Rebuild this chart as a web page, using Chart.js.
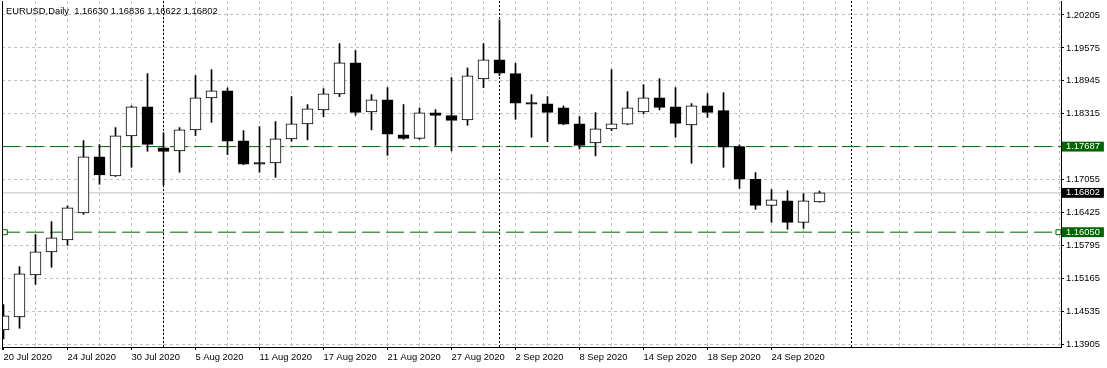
<!DOCTYPE html>
<html>
<head>
<meta charset="utf-8">
<script src="https://cdn.jsdelivr.net/npm/chart.js@4.4.0/dist/chart.umd.min.js"></script>
<style>
  html, body { margin: 0; padding: 0; background: #fff; }
  #wrap { width: 1107px; height: 368px; }
</style>
</head>
<body>
<div id="wrap"><canvas id="chart" width="1107" height="368"></canvas></div>
<script>
// EURUSD daily bars, 20 Jul - 29 Sep 2020
let dates = [
    "20 Jul 2020", "21 Jul 2020", "22 Jul 2020", "23 Jul 2020", "24 Jul 2020",
    "27 Jul 2020", "28 Jul 2020", "29 Jul 2020", "30 Jul 2020", "31 Jul 2020",
    "3 Aug 2020", "4 Aug 2020", "5 Aug 2020", "6 Aug 2020", "7 Aug 2020",
    "10 Aug 2020", "11 Aug 2020", "12 Aug 2020", "13 Aug 2020", "14 Aug 2020",
    "17 Aug 2020", "18 Aug 2020", "19 Aug 2020", "20 Aug 2020", "21 Aug 2020",
    "24 Aug 2020", "25 Aug 2020", "26 Aug 2020", "27 Aug 2020", "28 Aug 2020",
    "31 Aug 2020", "1 Sep 2020", "2 Sep 2020", "3 Sep 2020", "4 Sep 2020",
    "7 Sep 2020", "8 Sep 2020", "9 Sep 2020", "10 Sep 2020", "11 Sep 2020",
    "14 Sep 2020", "15 Sep 2020", "16 Sep 2020", "17 Sep 2020", "18 Sep 2020",
    "21 Sep 2020", "22 Sep 2020", "23 Sep 2020", "24 Sep 2020", "25 Sep 2020",
    "28 Sep 2020", "29 Sep 2020",
];
let opens = [
    1.14180, 1.14429, 1.15233, 1.15673, 1.15902, 1.16419, 1.17490, 1.17127, 1.17892, 1.18447,
    1.17662, 1.17605, 1.18007, 1.18619, 1.18753, 1.17796, 1.17381, 1.17375, 1.17835, 1.18122,
    1.18389, 1.18696, 1.19289, 1.18351, 1.18581, 1.17911, 1.17846, 1.18332, 1.18280, 1.18198,
    1.18982, 1.19346, 1.19084, 1.18529, 1.18504, 1.18428, 1.18122, 1.17758, 1.18026, 1.18115,
    1.18351, 1.18619, 1.18447, 1.18102, 1.18466, 1.18376, 1.17687, 1.17062, 1.16564, 1.16648,
    1.16239, 1.16630,
];
let highs = [
    1.14664, 1.15391, 1.16004, 1.16252, 1.16553, 1.17802, 1.17726, 1.18051, 1.18466, 1.19084,
    1.17955, 1.18051, 1.19046, 1.19160, 1.18810, 1.17993, 1.18070, 1.18166, 1.18644, 1.18491,
    1.18797, 1.19658, 1.19524, 1.18682, 1.18816, 1.18491, 1.18428, 1.18395, 1.19007, 1.19193,
    1.19658, 1.20111, 1.19281, 1.18682, 1.18644, 1.18466, 1.18261, 1.18338, 1.19160, 1.18740,
    1.18873, 1.18988, 1.18816, 1.18510, 1.18701, 1.18720, 1.17720, 1.17190, 1.16865, 1.16845,
    1.16788, 1.16836,
];
let lows = [
    1.14008, 1.14211, 1.15053, 1.15378, 1.15799, 1.16392, 1.16966, 1.17115, 1.17291, 1.17597,
    1.16947, 1.17196, 1.17898, 1.18152, 1.17534, 1.17340, 1.17196, 1.17100, 1.17789, 1.17815,
    1.18261, 1.18644, 1.18286, 1.18007, 1.17521, 1.17827, 1.17827, 1.17712, 1.17605, 1.18095,
    1.18816, 1.19046, 1.18210, 1.17865, 1.17783, 1.18105, 1.17643, 1.17509, 1.17993, 1.18105,
    1.18313, 1.18389, 1.17865, 1.17368, 1.18248, 1.17291, 1.16889, 1.16488, 1.16239, 1.16105,
    1.16124, 1.16622,
];
let closes = [
    1.14448, 1.15252, 1.15673, 1.15940, 1.16514, 1.17490, 1.17146, 1.17892, 1.18447, 1.17731,
    1.17597, 1.18007, 1.18619, 1.18753, 1.17789, 1.17349, 1.17349, 1.17835, 1.18122, 1.18409,
    1.18696, 1.19289, 1.18343, 1.18581, 1.17923, 1.17846, 1.18332, 1.18286, 1.18190, 1.19040,
    1.19346, 1.19090, 1.18516, 1.18497, 1.18343, 1.18114, 1.17712, 1.18026, 1.18122, 1.18428,
    1.18619, 1.18439, 1.18133, 1.18466, 1.18343, 1.17674, 1.17062, 1.16564, 1.16668, 1.16239,
    1.16648, 1.16802,
];

// price scale labels
let priceTicks = [1.20205, 1.19575, 1.18945, 1.18315, 1.17685, 1.17055, 1.16425, 1.15795, 1.15165, 1.14535, 1.13905];
// horizontal lines drawn on the chart
let levels = [1.17687, 1.16050];
// first bar of each month (1 Oct is still ahead)
let monthStarts = [10, 31, 53];

// visible window, in bars and in price
const xMin = -0.09375, xMax = 66.09375;
const yMin = 1.138533, yMax = 1.204728;

const FONT = '"Liberation Sans", Arial, sans-serif';
const NONE = 'rgba(0,0,0,0)';
const GRID = '#c0c0c0';
const GREEN = '#006400';
const last = closes.length - 1;
const bid = closes[last];

function levelKind(v) {
    if (Math.abs(v - bid) < 1e-7) return 'bid';
    for (const l of levels) if (Math.abs(v - l) < 1e-7) return 'level';
    return null;
}
function hiddenTick(v) {
    if (levelKind(v)) return false;
    return levels.concat([bid]).some(l => Math.abs(l - v) < 0.001);
}

const datasets = [
    {
        type: 'bar',
        data: dates.map((d, i) => ({x: i, y: [opens[i], closes[i]]})),
        backgroundColor: dates.map((d, i) => closes[i] >= opens[i] ? '#ffffff' : '#000000'),
        borderColor: '#000000',
        borderWidth: 1,
        borderSkipped: false,
        barThickness: 11,
        grouped: false,
    },
    {
        type: 'bar',
        data: dates.map((d, i) => ({x: i, y: [lows[i], highs[i]]})),
        backgroundColor: '#000000',
        borderWidth: 0,
        barThickness: 1,
        grouped: false,
    },
    {
        type: 'line',
        data: [{x: xMin, y: bid}, {x: xMax, y: bid}],
        borderColor: GRID,
        borderWidth: 1,
        pointRadius: 0,
    },
];
levels.forEach((l, k) => {
    datasets.push({
        type: 'line',
        data: [{x: xMin, y: l}, {x: xMin + 0.18, y: l}, {x: xMax - 0.16, y: l}, {x: xMax, y: l}],
        borderColor: GREEN,
        borderWidth: 1,
        borderDash: [18, 6],
        pointStyle: 'rect',
        pointRadius: (ctx) => (k === 1 && (ctx.dataIndex === 1 || ctx.dataIndex === 2)) ? 3.5 : 0,
        pointBackgroundColor: '#ffffff',
        pointBorderColor: GREEN,
        pointBorderWidth: 1,
    });
});
monthStarts.forEach(m => {
    datasets.push({
        type: 'line',
        data: [{x: m, y: yMin}, {x: m, y: yMax}],
        borderColor: '#000000',
        borderWidth: 1,
        borderDash: [2, 2],
        pointRadius: 0,
    });
});

const frame = {
    id: 'frame',
    afterDraw(chart) {
        const ctx = chart.ctx, a = chart.chartArea;
        ctx.save();
        ctx.fillStyle = '#000';
        ctx.fillRect(a.left, a.top, 1, a.bottom - a.top + 3);
        const text = 'EURUSD,Daily  ' + [opens[last], highs[last], lows[last], closes[last]].map(v => v.toFixed(5)).join(' ');
        ctx.font = '9.4px ' + FONT;
        ctx.textBaseline = 'middle';
        ctx.fillText(text, a.left + 4, a.top + 10);
        ctx.restore();
    }
};

new Chart("chart", {
    type: 'bar',
    data: {datasets: datasets},
    plugins: [frame],
    options: {
        responsive: false,
        animation: false,
        layout: {padding: {left: 2, top: 1, right: 0, bottom: 0}},
        plugins: {
            legend: {display: false},
            tooltip: {enabled: false},
        },
        scales: {
            x: {
                type: 'linear',
                min: xMin,
                max: xMax,
                offset: false,
                afterBuildTicks: (scale) => {
                    const t = [];
                    for (let v = 0; v <= 66; v += 2) t.push({value: v});
                    scale.ticks = t;
                },
                afterFit: (scale) => {
                    scale.height = 21;
                    scale.paddingLeft = 0;
                    scale.paddingRight = 0;
                },
                grid: {
                    offset: false,
                    color: (ctx) => (ctx.tick && ctx.tick.value === 0) ? NONE : GRID,
                    tickColor: (ctx) => (ctx.tick && ctx.tick.value % 4 === 0 && ctx.tick.value < dates.length) ? '#000' : NONE,
                    tickLength: 3,
                    lineWidth: 1,
                },
                border: {display: true, color: '#000', width: 1, dash: [3, 3]},
                ticks: {
                    autoSkip: false,
                    maxRotation: 0,
                    align: 'start',
                    padding: 2,
                    color: '#000',
                    font: {family: FONT, size: 9.4, lineHeight: 1.05},
                    callback: (v) => (v % 4 === 0 && v < dates.length) ? dates[v] : '',
                },
            },
            y: {
                type: 'linear',
                position: 'right',
                min: yMin,
                max: yMax,
                beginAtZero: false,
                afterBuildTicks: (scale) => {
                    scale.ticks = priceTicks.concat(levels, [bid]).map(v => ({value: v}));
                },
                afterFit: (scale) => {
                    scale.width = 46;
                    scale.paddingTop = 0;
                    scale.paddingBottom = 0;
                },
                grid: {
                    color: (ctx) => (ctx.tick && levelKind(ctx.tick.value)) ? NONE : GRID,
                    tickColor: (ctx) => (ctx.tick && (levelKind(ctx.tick.value) || hiddenTick(ctx.tick.value))) ? NONE : '#000',
                    tickLength: 3,
                    lineWidth: 1,
                },
                border: {display: true, color: '#000', width: 1, dash: [3, 3]},
                ticks: {
                    autoSkip: false,
                    padding: 2,
                    font: {family: FONT, size: 9.4, lineHeight: 1.05},
                    color: (ctx) => (ctx.tick && levelKind(ctx.tick.value)) ? '#fff' : '#000',
                    showLabelBackdrop: (ctx) => !!(ctx.tick && levelKind(ctx.tick.value)),
                    backdropColor: (ctx) => {
                        const k = ctx.tick ? levelKind(ctx.tick.value) : null;
                        return k === 'bid' ? '#000' : (k === 'level' ? GREEN : NONE);
                    },
                    backdropPadding: {left: 4, right: 4, top: 0, bottom: 0},
                    callback: (v) => hiddenTick(v) ? '' : v.toFixed(5),
                },
            },
        },
    },
});
</script>
</body>
</html>
